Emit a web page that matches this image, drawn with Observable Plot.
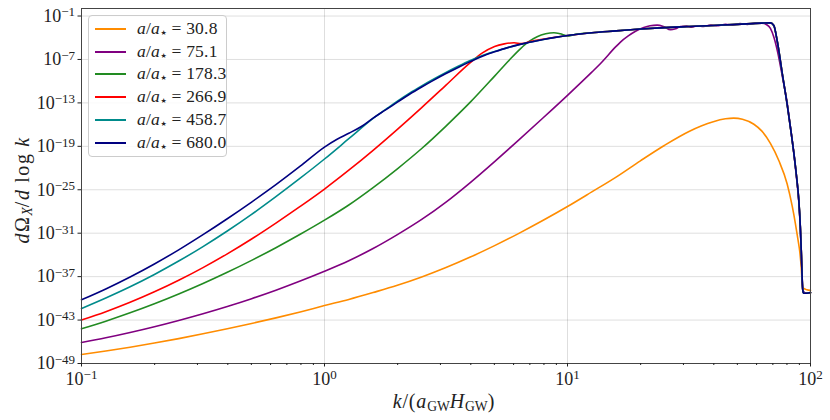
<!DOCTYPE html>
<html><head><meta charset="utf-8">
<script src="https://cdn.jsdelivr.net/npm/d3@7"></script>
<script src="https://cdn.jsdelivr.net/npm/@observablehq/plot@0.6"></script>
<style>
body{margin:0;background:#fff;}
#wrap{position:relative;width:830px;height:420px;font-family:"Liberation Serif",serif;color:#222;}
#wrap svg{position:absolute;left:0;top:0;}
.legend{position:absolute;left:88px;top:15px;width:139px;height:142px;border:1px solid #ccc;border-radius:4px;background:rgba(255,255,255,0.85);box-sizing:border-box;}
.swatch{position:absolute;left:6px;width:31px;height:2px;}
.ltxt{position:absolute;left:48px;font-size:17.5px;line-height:20px;white-space:nowrap;letter-spacing:0.2px;}
.star{font-family:"DejaVu Sans",sans-serif;font-size:7px;vertical-align:-0.1em;margin-left:0.5px;}
.ylab{position:absolute;left:22px;top:190px;transform:translate(-50%,-50%) rotate(-90deg);font-size:20px;white-space:nowrap;letter-spacing:1.6px;}
.xlab{position:absolute;left:444px;top:390px;transform:translateX(-50%);font-size:20px;white-space:nowrap;letter-spacing:0.8px;}
sub{font-size:0.68em;vertical-align:-0.25em;line-height:0;letter-spacing:0;}
</style></head><body><div id="wrap"></div>
<script>
// ---- data (log10 k, log10 dΩ/dlogk) ----
const seriesLabels = ["30.8", "75.1", "178.3", "266.9", "458.7", "680.0"];
const seriesColors = ["darkorange", "purple", "forestgreen", "red", "darkcyan", "navy"];

const orangeLogK = [-1, -0.9, -0.8, -0.7, -0.6, -0.5, -0.4, -0.3, -0.2, -0.1, 0, 0.1, 0.2, 0.3, 0.4, 0.5, 0.6, 0.7, 0.8, 0.9, 1.0, 1.1, 1.2, 1.3, 1.4, 1.5, 1.55, 1.6, 1.65, 1.684, 1.72, 1.767, 1.8, 1.835, 1.87, 1.904, 1.925, 1.938, 1.948, 1.956, 1.962, 1.966, 1.97, 1.985, 2.0];
const orangeLogY = [-47.75, -47.27, -46.75, -46.18, -45.56, -44.9, -44.2, -43.47, -42.7, -41.88, -41.0, -40.15, -39.2, -38.2, -37.05, -35.75, -34.3, -32.72, -31.02, -29.22, -27.32, -25.3, -23.25, -21.0, -18.85, -16.95, -16.2, -15.6, -15.2, -15.1, -15.25, -15.95, -16.9, -18.6, -21.0, -24.2, -27.3, -29.7, -31.8, -33.6, -35.8, -38.0, -38.6, -38.8, -38.9];

const purpleLogK = [-1, -0.9, -0.8, -0.7, -0.6, -0.5, -0.4, -0.3, -0.2, -0.1, 0, 0.1, 0.2, 0.3, 0.4, 0.5, 0.6, 0.7, 0.8, 0.9, 1.0, 1.1, 1.136, 1.2, 1.218, 1.25, 1.28, 1.314, 1.34, 1.369, 1.395, 1.424, 1.445, 1.465, 1.49, 1.51, 1.535, 1.56, 1.59, 1.62, 1.65, 1.68, 1.71, 1.74, 1.77, 1.8, 1.82, 1.835, 1.85, 1.865, 1.885, 1.904, 1.918, 1.931, 1.942, 1.952, 1.958, 1.962, 1.966, 1.969, 1.985, 2.0];
const purpleLogY = [-46.1, -45.45, -44.72, -43.92, -43.05, -42.12, -41.12, -40.04, -38.87, -37.6, -36.25, -34.8, -33.12, -31.2, -29.1, -26.7, -24.0, -21.1, -18.1, -15.05, -11.95, -8.75, -7.55, -5.2, -4.6, -3.75, -3.1, -2.6, -2.35, -2.25, -2.45, -2.9, -2.75, -2.45, -2.4, -2.55, -2.35, -2.45, -2.25, -2.35, -2.15, -2.25, -2.05, -2.15, -2.0, -2.0, -2.2, -2.7, -4.0, -6.0, -9.5, -13.0, -16.5, -19.8, -23.2, -26.7, -30.2, -33.5, -37.6, -39.0, -39.3, -39.2];

const greenLogK = [-1, -0.9, -0.8, -0.7, -0.6, -0.5, -0.4, -0.3, -0.2, -0.1, 0, 0.1, 0.2, 0.3, 0.4, 0.5, 0.6, 0.7, 0.76, 0.807, 0.84, 0.875, 0.91, 0.944, 0.97, 1.0, 1.03];
const greenLogY = [-44.2, -43.15, -42.0, -40.75, -39.4, -37.95, -36.4, -34.75, -33.0, -31.15, -29.2, -27.1, -24.7, -22.1, -19.3, -16.2, -12.9, -9.3, -7.1, -5.5, -4.55, -3.85, -3.45, -3.3, -3.45, -3.75, -3.55];

const redLogK = [-1, -0.9, -0.8, -0.7, -0.6, -0.5, -0.4, -0.3, -0.2, -0.1, 0, 0.1, 0.2, 0.3, 0.4, 0.5, 0.6, 0.65, 0.7, 0.74, 0.78, 0.81, 0.85];
const redLogY = [-43.0, -41.85, -40.55, -39.1, -37.5, -35.75, -33.85, -31.8, -29.6, -27.3, -24.9, -22.3, -19.55, -16.65, -13.65, -10.55, -7.45, -6.1, -5.2, -4.85, -4.7, -4.8, -4.5];

const tealLogK = [-1, -0.9, -0.8, -0.7, -0.6, -0.5, -0.4, -0.3, -0.2, -0.1, 0, 0.1, 0.2, 0.26, 0.3, 0.35, 0.4, 0.45, 0.5, 0.55, 0.6, 0.65, 0.7];
const tealLogY = [-41.4, -39.95, -38.4, -36.7, -34.85, -32.85, -30.7, -28.4, -25.95, -23.4, -20.75, -17.95, -15.15, -13.7, -12.75, -11.65, -10.65, -9.7, -8.8, -7.95, -7.15, -6.45, -5.9];

const navyLogK = [-1, -0.9, -0.8, -0.7, -0.6, -0.5, -0.4, -0.3, -0.2, -0.1, 0, 0.05, 0.1, 0.15, 0.2, 0.25, 0.3, 0.35, 0.4, 0.45, 0.5, 0.55, 0.6, 0.65, 0.7, 0.75, 0.8, 0.85, 0.9, 0.95];
const navyLogY = [-40.2, -38.7, -37.05, -35.25, -33.3, -31.2, -29.0, -26.7, -24.3, -21.75, -19.1, -18.05, -17.2, -16.3, -15.1, -14.0, -12.9, -11.8, -10.8, -9.85, -8.95, -8.1, -7.3, -6.55, -5.95, -5.4, -4.95, -4.6, -4.25, -3.95];

// shared high-k plateau and cutoff (green, red, teal and navy follow it)
const plateauLogK = [1.0, 1.1, 1.2, 1.3, 1.4, 1.5, 1.6, 1.7, 1.8, 1.835, 1.849, 1.863, 1.885, 1.904, 1.92, 1.931, 1.942, 1.952, 1.958, 1.962, 1.965, 1.968, 1.972, 1.985, 2.0];
const plateauLogY = [-3.7, -3.3, -3.05, -2.8, -2.6, -2.45, -2.3, -2.15, -1.98, -1.95, -2.3, -4.45, -9.2, -13.2, -17.0, -19.8, -23.0, -26.5, -30.0, -33.4, -36.5, -38.8, -39.3, -39.3, -39.2];

const yTickExps = [-1, -7, -13, -19, -25, -31, -37, -43, -49];
const xTickExps = [-1, 0, 1, 2];

// ---- build tables ----
function rows(lk, ly, s) { return lk.map((k, i) => ({k: 10 ** k, v: 10 ** ly[i], s})); }
function withPlateau(lk, ly, s) {
  const last = lk[lk.length - 1];
  const pk = [], py = [];
  plateauLogK.forEach((k, i) => { if (k > last) { pk.push(k); py.push(plateauLogY[i]); } });
  return rows(lk.concat(pk), ly.concat(py), s);
}
const series = [
  rows(orangeLogK, orangeLogY, seriesLabels[0]),
  rows(purpleLogK, purpleLogY, seriesLabels[1]),
  withPlateau(greenLogK, greenLogY, seriesLabels[2]),
  withPlateau(redLogK, redLogY, seriesLabels[3]),
  withPlateau(tealLogK, tealLogY, seriesLabels[4]),
  withPlateau(navyLogK, navyLogY, seriesLabels[5])
];

const yTicks = yTickExps.map(e => 10 ** e);
const xTicks = xTickExps.map(e => 10 ** e);
const xMinor = [];
for (let e = -1; e < 2; e++) for (let m = 2; m <= 9; m++) xMinor.push(m * 10 ** e);
const fmt = v => "10^" + Math.round(Math.log10(v));

const chart = Plot.plot({
  width: 830, height: 420,
  marginLeft: 81, marginRight: 20, marginTop: 8, marginBottom: 57,
  style: {fontFamily: "'Liberation Serif', serif", fontSize: "18px", background: "transparent", color: "#222"},
  x: {type: "log", domain: [0.1, 100], axis: null},
  y: {type: "log", domain: [1e-49, 10 ** 0.04], axis: null},
  marks: [
    Plot.gridY(yTicks, {stroke: "#000", strokeOpacity: 0.13, strokeWidth: 1}),
    Plot.gridX(xTicks, {stroke: "#000", strokeOpacity: 0.13, strokeWidth: 1}),
    ...series.map((d, i) => Plot.line(d, {x: "k", y: "v", stroke: seriesColors[i], strokeWidth: 1.6, curve: "monotone-x"})),
    Plot.frame({stroke: "#444", strokeWidth: 1}),
    Plot.axisY(yTicks, {tickSize: 3.5, tickPadding: 3, tickFormat: fmt, stroke: "#222", label: null}),
    Plot.axisX(xTicks, {tickSize: 3.5, tickPadding: 5, tickFormat: fmt, stroke: "#222", label: null}),
    Plot.axisX(xMinor, {tickSize: 2, tickFormat: () => "", stroke: "#222", label: null})
  ]
});

// render exponents as raised tspans
const ns = "http://www.w3.org/2000/svg";
chart.querySelectorAll("text").forEach(t => {
  const m = t.textContent.match(/^10\^(-?\d+)$/);
  if (!m) return;
  t.textContent = "";
  const a = document.createElementNS(ns, "tspan"); a.textContent = "10";
  const b = document.createElementNS(ns, "tspan");
  b.textContent = m[1].replace("-", "\u2212");
  b.setAttribute("dy", "-0.42em"); b.setAttribute("font-size", "13");
  t.append(a, b);
});

const wrap = document.getElementById("wrap");
wrap.appendChild(chart);

// legend
const lg = document.createElement("div"); lg.className = "legend";
const rowY = [12, 35, 57, 80, 103, 126];
seriesLabels.forEach((lab, i) => {
  const sw = document.createElement("div"); sw.className = "swatch";
  sw.style.top = rowY[i] + "px"; sw.style.background = seriesColors[i];
  const tx = document.createElement("div"); tx.className = "ltxt";
  tx.style.top = (rowY[i] - 10) + "px";
  tx.innerHTML = "<i>a</i>/<i>a</i><span class='star'>\u2605</span> = " + lab;
  lg.append(sw, tx);
});
wrap.appendChild(lg);

const yl = document.createElement("div"); yl.className = "ylab";
yl.innerHTML = "<i>d</i>\u03A9<sub><i>X</i></sub>/<i>d</i>\u2009log\u2009<i>k</i>";
wrap.appendChild(yl);
const xl = document.createElement("div"); xl.className = "xlab";
xl.innerHTML = "<i>k</i>/(<i>a</i><sub>GW</sub><i>H</i><sub>GW</sub>)";
wrap.appendChild(xl);
</script>
</body></html>
